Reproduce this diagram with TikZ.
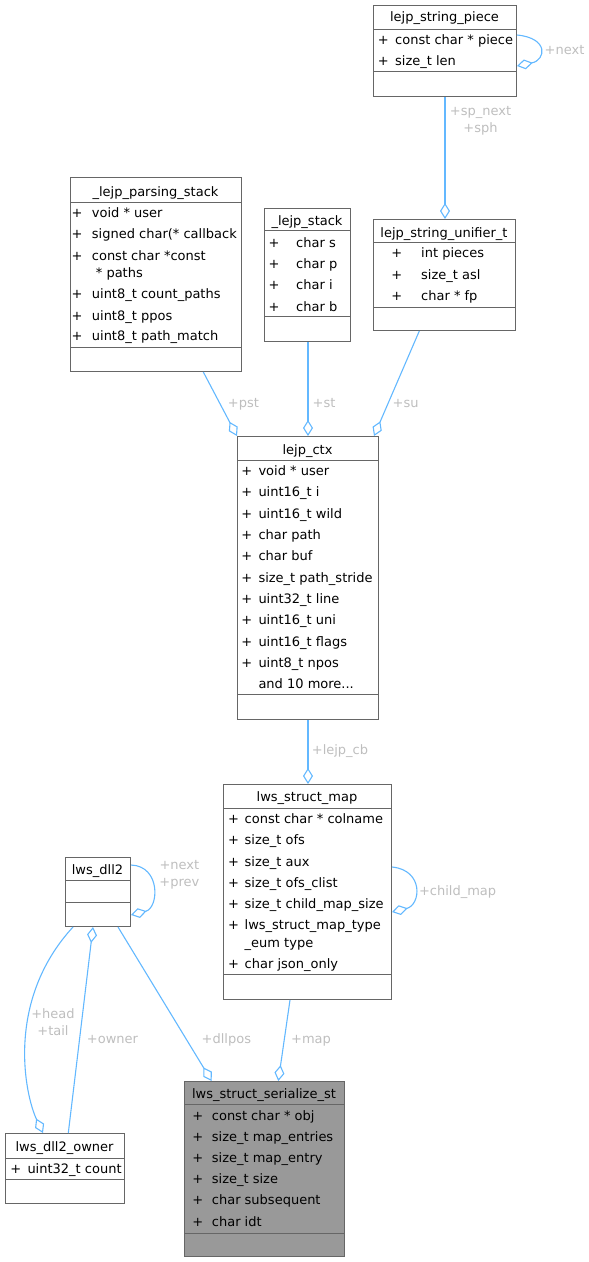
\documentclass[tikz,border=0pt]{standalone}
\usepackage{fontspec}
\setmainfont{DejaVu Sans}
\usetikzlibrary{arrows.meta,positioning,calc}
\definecolor{boxgray}{HTML}{666666}
\definecolor{rootfill}{HTML}{999999}
\definecolor{edgeblue}{HTML}{63B8FF}
\definecolor{lblgray}{HTML}{BEBEBE}

\begin{document}
\begin{tikzpicture}[x=1pt,y=-1pt,font=\fontsize{13}{17}\selectfont,
  cls/.style={draw=boxgray,line width=1pt,fill=white,anchor=north west,inner sep=0pt},
  sep/.style={draw=boxgray,line width=1pt},
  ttl/.style={anchor=base,inner sep=0pt},
  mem/.style={anchor=base west,inner sep=0pt},
  plus/.style={anchor=base,inner sep=0pt},
  rel/.style={draw=edgeblue,line width=1.1pt,-{Diamond[open,length=16pt,width=10pt]}},
  lbl/.style={text=lblgray,anchor=base,inner sep=0pt,align=center}]
  \useasboundingbox (0,0) rectangle (589,1262);

  % lejp_string_piece
  \node[cls,minimum width=143,minimum height=91] (piece) at (373,5) {};
  \draw[sep] (piece.west |- 0,29) -- (piece.east |- 0,29);
  \draw[sep] (piece.west |- 0,71) -- (piece.east |- 0,71);
  \node[ttl] (piece-t) at (444.5,21.5) {lejp\_string\_piece};
  \foreach \t [count=\i] in {const char * piece, size\_t len}{
    \node[plus] (piece-p\i) at (383.3,{44.5+21.33*(\i-1)}) {+};
    \node[mem] (piece-m\i) at (395,{44.5+21.33*(\i-1)}) {\t};
  }

  % _lejp_parsing_stack
  \node[cls,minimum width=171,minimum height=194] (par) at (70,177) {};
  \draw[sep] (par.west |- 0,202) -- (par.east |- 0,202);
  \draw[sep] (par.west |- 0,347) -- (par.east |- 0,347);
  \node[ttl] (par-t) at (155.5,196.2) {\_lejp\_parsing\_stack};
  \foreach \y/\t [count=\i] in {212.7/void * user, 234/signed char(* callback, 256/const char *const,
      294/uint8\_t count\_paths, 315.7/uint8\_t ppos, 336/uint8\_t path\_match}{
    \node[plus] (par-p\i) at (77,\y+4.5) {+};
    \node[mem] (par-m\i) at (91.7,\y+4.5) {\t};
  }
  \node[mem] (par-m3b) at (95.7,277.2) {* paths};

  % _lejp_stack
  \node[cls,minimum width=86,minimum height=133] (stk) at (264,208) {};
  \draw[sep] (stk.west |- 0,230) -- (stk.east |- 0,230);
  \draw[sep] (stk.west |- 0,316) -- (stk.east |- 0,316);
  \node[ttl] (stk-t) at (307,225.5) {\_lejp\_stack};
  \foreach \t [count=\i] in {char s, char p, char i, char b}{
    \node[plus] (stk-p\i) at (274,{247.2+21.33*(\i-1)}) {+};
    \node[mem] (stk-m\i) at (296,{247.2+21.33*(\i-1)}) {\t};
  }

  % lejp_string_unifier_t
  \node[cls,minimum width=142,minimum height=111] (uni) at (373,219) {};
  \draw[sep] (uni.west |- 0,242) -- (uni.east |- 0,242);
  \draw[sep] (uni.west |- 0,307) -- (uni.east |- 0,307);
  \node[ttl] (uni-t) at (444,237.2) {lejp\_string\_unifier\_t};
  \foreach \t [count=\i] in {int pieces, size\_t asl, char * fp}{
    \node[plus] (uni-p\i) at (396.7,{257.8+21.33*(\i-1)}) {+};
    \node[mem] (uni-m\i) at (421,{257.8+21.33*(\i-1)}) {\t};
  }

  % lejp_ctx
  \node[cls,minimum width=141,minimum height=283] (ctx) at (237,436) {};
  \draw[sep] (ctx.west |- 0,460) -- (ctx.east |- 0,460);
  \draw[sep] (ctx.west |- 0,694) -- (ctx.east |- 0,694);
  \node[ttl] (ctx-t) at (307.5,454.5) {lejp\_ctx};
  \foreach \t [count=\i] in {void * user, uint16\_t i, uint16\_t wild, char path, char buf,
      size\_t path\_stride, uint32\_t line, uint16\_t uni, uint16\_t flags, uint8\_t npos}{
    \node[plus] (ctx-p\i) at (246.7,{475.5+21.33*(\i-1)}) {+};
    \node[mem] (ctx-m\i) at (258.3,{475.5+21.33*(\i-1)}) {\t};
  }
  \node[mem] (ctx-more) at (258.3,688.8) {and 10 more...};

  % lws_struct_map
  \node[cls,minimum width=168,minimum height=215] (map) at (223,784) {};
  \draw[sep] (map.west |- 0,808) -- (map.east |- 0,808);
  \draw[sep] (map.west |- 0,974) -- (map.east |- 0,974);
  \node[ttl] (map-t) at (307,801.8) {lws\_struct\_map};
  \foreach \y/\t [count=\i] in {818.7/const char * colname, 840.3/size\_t ofs, 861.7/size\_t aux,
      882.7/size\_t ofs\_clist, 904/size\_t child\_map\_size, 925.3/lws\_struct\_map\_type, 964/char json\_only}{
    \node[plus] (map-p\i) at (233.6,\y+4.5) {+};
    \node[mem] (map-m\i) at (244.5,\y+4.5) {\t};
  }
  \node[mem] (map-m6b) at (244.5,947.8) {\_eum type};

  % lws_dll2
  \node[cls,minimum width=65,minimum height=69] (dll) at (65,857) {};
  \draw[sep] (dll.west |- 0,880) -- (dll.east |- 0,880);
  \draw[sep] (dll.west |- 0,902) -- (dll.east |- 0,902);
  \node[ttl] (dll-t) at (97.5,874.5) {lws\_dll2};

  % lws_dll2_owner
  \node[cls,minimum width=119,minimum height=70] (own) at (5,1133) {};
  \draw[sep] (own.west |- 0,1158) -- (own.east |- 0,1158);
  \draw[sep] (own.west |- 0,1179) -- (own.east |- 0,1179);
  \node[ttl] (own-t) at (64.5,1151.8) {lws\_dll2\_owner};
  \node[plus] (own-p1) at (15.7,1173.2) {+};
  \node[mem] (own-m1) at (27.3,1173.2) {uint32\_t count};

  % lws_struct_serialize_st
  \node[cls,fill=rootfill,minimum width=160,minimum height=175] (ser) at (184,1081) {};
  \draw[sep] (ser.west |- 0,1104) -- (ser.east |- 0,1104);
  \draw[sep] (ser.west |- 0,1233) -- (ser.east |- 0,1233);
  \node[ttl] (ser-t) at (264,1098.5) {lws\_struct\_serialize\_st};
  \foreach \y/\t [count=\i] in {1115.7/const char * obj, 1136.7/size\_t map\_entries, 1158.3/size\_t map\_entry,
      1179.3/size\_t size, 1200.3/char subsequent, 1221.7/char idt}{
    \node[plus] (ser-p\i) at (197.7,\y+4.5) {+};
    \node[mem] (ser-m\i) at (211.7,\y+4.5) {\t};
  }

  % relations
  \draw[rel] (piece.south) -- (piece.south |- uni.north);
  \draw[rel] ([yshift=-30pt]piece.north east) .. controls +(32,3) and +(29,-6) .. ([yshift=-61pt]piece.north east);
  \draw[rel] ([xshift=133.3pt]par.south west) -- (ctx.north west);
  \draw[rel] ([xshift=0.5pt]stk.south) -- ([xshift=0.5pt]stk.south |- ctx.north);
  \draw[rel] ([xshift=46.3pt]uni.south west) -- ([xshift=-5pt]ctx.north east);
  \draw[rel] (ctx.south) -- (ctx.south |- map.north);
  \draw[rel] ([yshift=-83pt]map.north east) .. controls +(32,3) and +(29,-7) .. ([yshift=-128pt]map.north east);
  \draw[rel] ([yshift=-8pt]dll.north east) .. controls +(30,1) and +(28,-7) .. ([yshift=-58pt]dll.north east);
  \draw[rel] ([xshift=8pt]dll.south west) .. controls +(-68,74) and +(-18,-38) .. ([xshift=38pt]own.north west);
  \draw[rel] ([xshift=63.3pt]own.north west) -- ([xshift=28pt]dll.south west);
  \draw[rel] ([xshift=53pt]dll.south west) -- ([xshift=27.7pt]ser.north west);
  \draw[rel] ([xshift=67pt]map.south west) -- ([xshift=94.3pt]ser.north west);

  % relation labels
  \node[lbl] (l-sp) at (480.5,132.5) {+sp\_next\\+sph};
  \node[lbl] (l-pnext) at (564.5,54.5) {+next};
  \node[lbl] (l-pst) at (243.5,407.5) {+pst};
  \node[lbl] (l-st) at (324,407.5) {+st};
  \node[lbl] (l-su) at (405.6,407.5) {+su};
  \node[lbl] (l-cb) at (340,754.5) {+lejp\_cb};
  \node[lbl] (l-child) at (457.6,895.5) {+child\_map};
  \node[lbl] (l-dnext) at (179.4,886.8) {+next\\+prev};
  \node[lbl] (l-head) at (53,1035.2) {+head\\+tail};
  \node[lbl] (l-own) at (112.5,1043.8) {+owner};
  \node[lbl] (l-dll) at (226.4,1043.8) {+dllpos};
  \node[lbl] (l-map) at (311,1043.8) {+map};
\end{tikzpicture}
\end{document}
